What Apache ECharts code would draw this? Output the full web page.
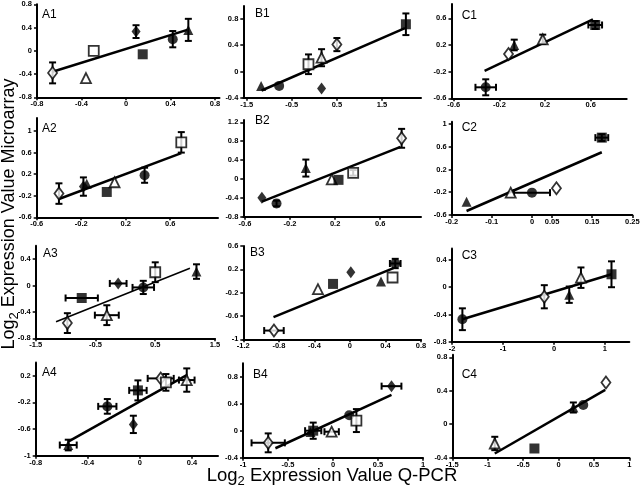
<!DOCTYPE html>
<html>
<head>
<meta charset="utf-8">
<script src="https://cdn.jsdelivr.net/npm/echarts@6/dist/echarts.min.js"></script>
<style>
html,body{margin:0;padding:0;background:#fff;}
#chart{width:640px;height:499px;}
</style>
</head>
<body>
<div id="chart"></div>
<script>
// ---------- DATA (marker, qpcr x, microarray y, x error, y error) ----------
// markers: od open diamond, fd filled diamond, os open square, fs filled square,
//          ot open triangle, ft filled triangle, fc filled circle
const A1_points = [['od',-0.66,-0.38,0,0.18],['ot',-0.36,-0.47,0,0],['os',-0.29,0.0,0,0],['fd',0.09,0.33,0,0.11],['fs',0.15,-0.06,0,0],['fc',0.42,0.2,0,0.14],['ft',0.56,0.36,0,0.19]];
const A1_fit = [[-0.66,-0.36],[0.55,0.36]];
const A1_xTicks = [-0.8,-0.4,0,0.4,0.8];
const A1_yTicks = [-0.8,-0.4,0,0.4,0.8];

const A2_points = [['od',-0.40,-0.16,0,0.19],['ft',-0.15,0.02,0,0],['fd',-0.18,-0.03,0,0.17],['fs',0.03,-0.13,0,0],['ot',0.10,0.05,0,0],['fc',0.37,0.18,0,0.14],['os',0.70,0.79,0,0.19]];
const A2_fit = [[-0.40,-0.26],[0.70,0.59]];
const A2_xTicks = [-0.6,-0.2,0.2,0.6];
const A2_yTicks = [-0.6,-0.2,0.2,0.6,1];

const A3_points = [['od',-0.97,-0.57,0,0.15],['fs',-0.73,-0.19,0.27,0],['ot',-0.31,-0.45,0.2,0.15],['fd',-0.12,0.03,0.14,0],['fc',0.30,-0.03,0.18,0.1],['os',0.50,0.2,0,0.15],['ft',1.19,0.21,0,0.11]];
const A3_fit = [[-1.16,-0.55],[1.08,0.26]];
const A3_xTicks = [-1.5,-0.5,0.5,1.5];
const A3_yTicks = [-0.8,-0.4,0,0.4];

const A4_points = [['ft',-0.55,-0.84,0.065,0.08],['fc',-0.25,-0.26,0.07,0.11],['fd',-0.05,-0.53,0,0.13],['fs',-0.015,-0.02,0.067,0.15],['od',0.16,0.16,0.1,0],['os',0.2,0.1,0,0.125],['ot',0.36,0.135,0.06,0.175]];
const A4_fit = [[-0.55,-0.79],[0.36,0.21]];
const A4_xTicks = [-0.8,-0.4,0,0.4];
const A4_yTicks = [-1,-0.6,-0.2,0.2];

const B1_points = [['ft',-1.18,-0.22,0,0],['fc',-0.78,-0.22,0,0],['os',-0.13,0.11,0,0.15],['ot',0.16,0.21,0,0.13],['fd',0.16,-0.26,0,0],['od',0.5,0.41,0,0.1],['fs',2.03,0.72,0,0.165]];
const B1_fit = [[-1.17,-0.29],[2.01,0.66]];
const B1_xTicks = [-1.5,-0.5,0.5,1.5];
const B1_yTicks = [-0.4,0,0.4,0.8];

const B2_points = [['fd',-0.45,-0.4,0,0],['fc',-0.32,-0.52,0,0.06],['ft',-0.06,0.23,0,0.18],['ot',0.17,-0.01,0,0],['fs',0.23,-0.02,0,0],['os',0.36,0.13,0,0.06],['od',0.79,0.86,0,0.2]];
const B2_fit = [[-0.45,-0.48],[0.78,0.68]];
const B2_xTicks = [-0.6,-0.2,0.2,0.6];
const B2_yTicks = [-0.8,-0.4,0,0.4,0.8,1.2];

const B3_points = [['od',-0.855,-0.85,0.11,0],['ot',-0.36,-0.14,0,0],['fs',-0.19,-0.05,0,0],['fd',0.01,0.15,0,0],['ft',0.35,-0.01,0,0],['os',0.48,0.06,0,0],['fc',0.51,0.3,0.06,0.08]];
const B3_fit = [[-0.86,-0.62],[0.49,0.22]];
const B3_xTicks = [-1.2,-0.8,-0.4,0,0.4,0.8];
const B3_yTicks = [-1,-0.6,-0.2,0.2,0.6];

const B4_points = [['od',-0.72,-0.18,0.185,0.14],['ft',-0.25,-0.02,0,0],['fs',-0.22,0.0,0.09,0.12],['ot',-0.015,-0.015,0.08,0],['fc',0.18,0.23,0,0],['os',0.26,0.15,0,0.17],['fd',0.65,0.66,0.11,0]];
const B4_fit = [[-0.64,-0.26],[0.65,0.53]];
const B4_xTicks = [-1,-0.5,0,0.5,1];
const B4_yTicks = [-0.4,0,0.4,0.8];

const C1_points = [['fc',-0.32,-0.435,0.09,0.12],['od',-0.12,0.065,0,0],['ft',-0.07,0.2,0,0.08],['ot',0.18,0.285,0,0.07],['fs',0.64,0.5,0.06,0.06]];
const C1_fit = [[-0.33,-0.19],[0.62,0.585]];
const C1_xTicks = [-0.6,-0.2,0.2,0.6];
const C1_yTicks = [-0.6,-0.2,0.2,0.6];

const C2_points = [['ft',-0.163,-0.365,0,0],['fc',0.0,-0.207,0.045,0],['ot',-0.053,-0.207,0,0],['od',0.061,-0.13,0,0],['fs',0.174,0.76,0.016,0.06]];
const C2_fit = [[-0.163,-0.53],[0.174,0.503]];
const C2_xTicks = [-0.2,-0.1,0,0.05,0.15,0.25];
const C2_yTicks = [-0.6,-0.2,0.2,0.6,1];

const C3_points = [['fc',-1.8,-0.47,0,0.16],['od',-0.19,-0.14,0,0.17],['ft',0.3,-0.11,0,0.12],['ot',0.53,0.14,0,0.15],['fs',1.13,0.19,0,0.19]];
const C3_fit = [[-1.8,-0.47],[1.13,0.19]];
const C3_xTicks = [-2,-1,0,1];
const C3_yTicks = [-0.8,-0.4,0,0.4];

const C4_points = [['ot',-0.9,-0.23,0,0.08],['fs',-0.34,-0.29,0,0],['ft',0.21,0.2,0,0.06],['fc',0.35,0.23,0,0],['od',0.67,0.5,0,0]];
const C4_fit = [[-0.9,-0.35],[0.66,0.41]];
const C4_xTicks = [-1.5,-1,-0.5,0,0.5,1];
const C4_yTicks = [-0.4,0,0.4,0.8];

const X_TITLE = ['Log', '2', ' Expression Value Q-PCR'];
const Y_TITLE = ['Log', '2', ' Expression Value Microarray'];

// ---------- LAYOUT ----------
// box: [left, right, top, bottom] in px; xr / yr: axis extents
const panels = [
  {name:'A1', pts:A1_points, fit:A1_fit, xt:A1_xTicks, yt:A1_yTicks, box:[37,219.5,4.3,97.3], xr:[-0.8,0.84], yr:[-0.8,0.8], tl:[42,14.5]},
  {name:'A2', pts:A2_points, fit:A2_fit, xt:A2_xTicks, yt:A2_yTicks, box:[36.7,218,118.1,217.3], xr:[-0.6,1.03], yr:[-0.6,1.24], tl:[42,129]},
  {name:'A3', pts:A3_points, fit:A3_fit, xt:A3_xTicks, yt:A3_yTicks, box:[35.7,215,245.8,338.3], xr:[-1.5,1.5], yr:[-0.8,0.6], tl:[43,254], lw:1.5},
  {name:'A4', pts:A4_points, fit:A4_fit, xt:A4_xTicks, yt:A4_yTicks, box:[35.7,218,362.4,455.7], xr:[-0.8,0.6], yr:[-1,0.4], tl:[42,372.5]},
  {name:'B1', pts:B1_points, fit:B1_fit, xt:B1_xTicks, yt:B1_yTicks, box:[243.3,421,5.9,97.7], xr:[-1.575,2.365], yr:[-0.4,1.0], tl:[255,14]},
  {name:'B2', pts:B2_points, fit:B2_fit, xt:B2_xTicks, yt:B2_yTicks, box:[243.3,421,119.9,216.7], xr:[-0.615,0.962], yr:[-0.8,1.25], tl:[255,121]},
  {name:'B3', pts:B3_points, fit:B3_fit, xt:B3_xTicks, yt:B3_yTicks, box:[243.3,421,246,339.3], xr:[-1.2,0.8], yr:[-1,0.6], tl:[250,252.5]},
  {name:'B4', pts:B4_points, fit:B4_fit, xt:B4_xTicks, yt:B4_yTicks, box:[243,423,363.2,457.7], xr:[-1,1], yr:[-0.4,1.0], tl:[253,375]},
  {name:'C1', pts:C1_points, fit:C1_fit, xt:C1_xTicks, yt:C1_yTicks, box:[451.5,626.7,4,98.3], xr:[-0.62,0.916], yr:[-0.6,0.815], tl:[461.7,15.5]},
  {name:'C2', pts:C2_points, fit:C2_fit, xt:C2_xTicks, yt:C2_yTicks, box:[451.7,632.3,121.7,215], xr:[-0.2,0.25], yr:[-0.6,1.04], tl:[461.7,127.3]},
  {name:'C3', pts:C3_points, fit:C3_fit, xt:C3_xTicks, yt:C3_yTicks, box:[451.7,629.3,248.4,341.7], xr:[-2.01,1.48], yr:[-0.8,0.57], tl:[461.7,256]},
  {name:'C4', pts:C4_points, fit:C4_fit, xt:C4_xTicks, yt:C4_yTicks, box:[452.3,629.3,354.8,457.7], xr:[-1.5,1.0], yr:[-0.4,0.83], tl:[461.7,374.2]}
];

const MARK = {
  od:{symbol:'diamond', size:[9,12], open:true},
  fd:{symbol:'diamond', size:[9,12], open:false},
  os:{symbol:'rect', size:[10,10], open:true},
  fs:{symbol:'rect', size:[10,10], open:false},
  ot:{symbol:'triangle', size:[10,10], open:true},
  ft:{symbol:'triangle', size:[10,10], open:false},
  fc:{symbol:'circle', size:[10,10], open:false}
};

const FONT = 'Liberation Sans, Arial, sans-serif';
const fmt = v => String(+(+v).toFixed(3));

function errRender(params, api){
  const x = api.value(0), y = api.value(1), ex = api.value(2), ey = api.value(3);
  const c = api.coord([x, y]);
  const st = {stroke:'#000', lineWidth:2};
  const cap = 3.5, ch = [];
  if (ey > 0) {
    const a = api.coord([x, y + ey]), b = api.coord([x, y - ey]);
    ch.push({type:'line', shape:{x1:c[0], y1:a[1], x2:c[0], y2:b[1]}, style:st});
    ch.push({type:'line', shape:{x1:c[0]-cap, y1:a[1], x2:c[0]+cap, y2:a[1]}, style:st});
    ch.push({type:'line', shape:{x1:c[0]-cap, y1:b[1], x2:c[0]+cap, y2:b[1]}, style:st});
  }
  if (ex > 0) {
    const a = api.coord([x - ex, y]), b = api.coord([x + ex, y]);
    ch.push({type:'line', shape:{x1:a[0], y1:c[1], x2:b[0], y2:c[1]}, style:st});
    ch.push({type:'line', shape:{x1:a[0], y1:c[1]-cap, x2:a[0], y2:c[1]+cap}, style:st});
    ch.push({type:'line', shape:{x1:b[0], y1:c[1]-cap, x2:b[0], y2:c[1]+cap}, style:st});
  }
  return {type:'group', children:ch};
}

const grid = [], xAxis = [], yAxis = [], series = [], graphic = [];
panels.forEach((p, i) => {
  const [L, R, T, B] = p.box;
  grid.push({left:L, top:T, width:R-L, height:B-T, containLabel:false, outerBoundsMode:'none'});
  const axisCommon = {
    type:'value', gridIndex:i, splitLine:{show:false},
    axisLine:{show:true, onZero:false, lineStyle:{color:'#000', width:2}},
  };
  xAxis.push(Object.assign({}, axisCommon, {
    min:p.xr[0], max:p.xr[1],
    axisTick:{show:true, customValues:p.xt, length:3, lineStyle:{color:'#000', width:1.5}},
    axisLabel:{customValues:p.xt, formatter:fmt, fontSize:7.5, fontWeight:'bold', fontFamily:FONT, color:'#000', margin:3}
  }));
  yAxis.push(Object.assign({}, axisCommon, {
    min:p.yr[0], max:p.yr[1],
    axisTick:{show:true, customValues:p.yt, length:3, lineStyle:{color:'#000', width:1.5}},
    axisLabel:{customValues:p.yt, formatter:fmt, fontSize:7.5, fontWeight:'bold', fontFamily:FONT, color:'#000', margin:5}
  }));
  series.push({
    type:'custom', xAxisIndex:i, yAxisIndex:i, z:2, silent:true, clip:false,
    data:p.pts.map(r => [r[1], r[2], r[3], r[4]]),
    encode:{x:0, y:1}, renderItem:errRender
  });
  series.push({
    type:'line', xAxisIndex:i, yAxisIndex:i, z:3, silent:true, symbol:'none',
    data:p.fit, lineStyle:{color:'#000', width:p.lw || 2.5}
  });
  series.push({
    type:'scatter', xAxisIndex:i, yAxisIndex:i, z:4, silent:true,
    data:p.pts.map(r => {
      const m = MARK[r[0]];
      return {value:[r[1], r[2]], symbol:m.symbol, symbolSize:m.size,
        itemStyle:{color:m.open ? '#fff' : '#000', borderColor:'#000', borderWidth:m.open ? 1.8 : 0}};
    })
  });
  graphic.push({type:'text', x:p.tl[0], y:p.tl[1], z:10,
    style:{text:p.name, fontSize:12, fontFamily:FONT, fill:'#000', verticalAlign:'middle', align:'left'}});
});

const rich = {
  a:{fontSize:18.5, fontFamily:FONT, fill:'#000'},
  s:{fontSize:13, fontFamily:FONT, fill:'#000', padding:[10,0,0,0]}
};
graphic.push({type:'text', x:332, y:476, z:10,
  style:{text:'{a|' + X_TITLE[0] + '}{s|' + X_TITLE[1] + '}{a|' + X_TITLE[2] + '}', rich:rich, align:'center', verticalAlign:'middle'}});
graphic.push({type:'text', x:9, y:214, rotation:Math.PI/2, z:10,
  style:{text:'{a|' + Y_TITLE[0] + '}{s|' + Y_TITLE[1] + '}{a|' + Y_TITLE[2] + '}', rich:{a:{fontSize:18, fontFamily:FONT, fill:'#000'}, s:rich.s}, align:'center', verticalAlign:'middle'}});

const chart = echarts.init(document.getElementById('chart'), null, {renderer:'canvas'});
chart.setOption({animation:false, backgroundColor:'#fff', grid, xAxis, yAxis, series, graphic});
</script>
</body>
</html>
